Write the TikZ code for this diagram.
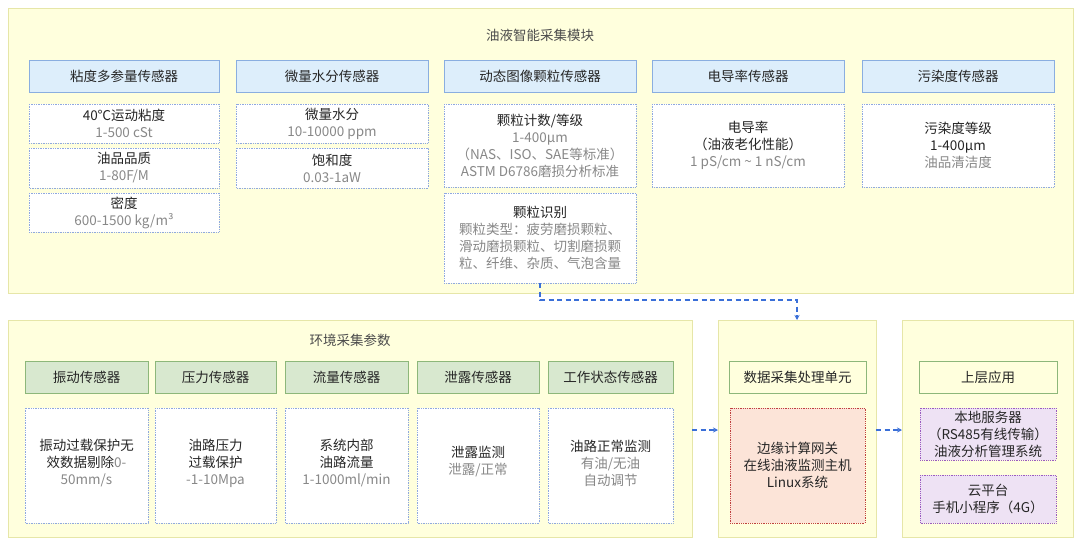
\documentclass[tikz,border=0pt]{standalone}
\usepackage{fontspec}
\setmainfont{Noto Sans CJK SC}
\usetikzlibrary{arrows.meta}
\definecolor{panel}{HTML}{FFFFDD}
\definecolor{panelb}{HTML}{E6E6A8}
\definecolor{hblue}{HTML}{DDEEFB}
\definecolor{hblueb}{HTML}{8AAEE0}
\definecolor{hgreen}{HTML}{D8E8CF}
\definecolor{hgreenb}{HTML}{8DB77A}
\definecolor{dbb}{HTML}{8FA8E0}
\definecolor{gtxt}{HTML}{888888}
\definecolor{rfill}{HTML}{FCE4D8}
\definecolor{rb}{HTML}{C04040}
\definecolor{pfill}{HTML}{EEE2F4}
\definecolor{pb}{HTML}{9A5CC0}
\definecolor{arr}{HTML}{3A6FD8}
\begin{document}
\begin{tikzpicture}[x=1pt,y=-1pt,
 panelS/.style={draw=panelb,fill=panel,line width=0.8pt},
 hb/.style={draw=hblueb,fill=hblue,line width=0.8pt},
 hg/.style={draw=hgreenb,fill=hgreen,line width=0.8pt},
 hw/.style={draw=hgreenb,fill=panel,line width=1pt},
 db/.style={draw=dbb,fill=white,densely dotted,line width=0.7pt},
 rbx/.style={draw=rb,fill=rfill,densely dotted,line width=0.8pt},
 pbx/.style={draw=pb,fill=pfill,densely dotted,line width=0.8pt},
 lab/.style={font=\fontsize{13.5}{17}\selectfont,align=center,text=black!85},
 ar/.style={draw=arr,line width=1.4pt,dash pattern=on 5pt off 3.5pt,-{Stealth[length=5pt,width=5pt]}}]
\useasboundingbox (0,0) rectangle (1080,547);
\fill[white] (0,0) rectangle (1080,547);
% top panel
\draw[panelS] (8,8) rectangle (1073,293);
\node[lab,text=black!70] (t1) at (540,35) {油液智能采集模块};
\foreach \a/\b/\t [count=\i] in {29/219/粘度多参量传感器,236/428/微量水分传感器,444/636/动态图像颗粒传感器,652/844/电导率传感器,862/1054/污染度传感器}{
 \draw[hb] (\a,60) rectangle (\b,92);
 \node[lab] (h\i) at ({(\a+\b)/2},76) {\t};
}
% col1
\draw[db] (29,104) rectangle (219,143); \node[lab] (a1) at (124,123.5) {40℃运动粘度\\{\color{gtxt}1-500 cSt}};
\draw[db] (29,148) rectangle (219,188); \node[lab] (a2) at (124,168) {油品品质\\{\color{gtxt}1-80F/M}};
\draw[db] (29,193) rectangle (219,232); \node[lab] (a3) at (124,212.5) {密度\\{\color{gtxt}600-1500 kg/m³}};
% col2
\draw[db] (236,104) rectangle (428,143); \node[lab] (b1) at (332,123.5) {微量水分\\{\color{gtxt}10-10000 ppm}};
\draw[db] (236,148) rectangle (428,188); \node[lab] (b2) at (332,168) {饱和度\\{\color{gtxt}0.03-1aW}};
% col3
\draw[db] (444,104) rectangle (636,187); \node[lab] (c1) at (540,145.5) {颗粒计数/等级\\{\color{gtxt}1-400μm}\\{\color{gtxt}（NAS、ISO、SAE等标准）}\\{\color{gtxt}ASTM D6786磨损分析标准}};
\draw[db] (444,193) rectangle (636,283); \coordinate (c2b) at (540,283);
\node[lab] (c2) at (540,238) {颗粒识别\\{\color{gtxt}颗粒类型：疲劳磨损颗粒、}\\{\color{gtxt}滑动磨损颗粒、切割磨损颗}\\{\color{gtxt}粒、纤维、杂质、气泡含量}};
% col4
\draw[db] (652,104) rectangle (844,187); \node[lab] (d1) at (748,145.5) {电导率\\（油液老化性能）\\{\color{gtxt}1 pS/cm \textasciitilde{} 1 nS/cm}};
\draw[db] (862,104) rectangle (1054,187); \node[lab] (e1) at (958,145.5) {污染度等级\\1-400μm\\{\color{gtxt}油品清洁度}};
% bottom left
\draw[panelS] (8,320) rectangle (692,537);
\node[lab,text=black!70] (t2) at (350,340) {环境采集参数};
\foreach \a/\b/\t [count=\i] in {25/148/振动传感器,155/276/压力传感器,285/408/流量传感器,417/539/泄露传感器,548/673/工作状态传感器}{
 \draw[hg] (\a,361) rectangle (\b,393);
 \node[lab] (g\i) at ({(\a+\b)/2},377) {\t};
 \draw[db] (\a,408) rectangle (\b,523);
}
\node[lab] (s1) at (86.5,463) {振动过载保护无\\效数据剔除{\color{gtxt}0-}\\{\color{gtxt}50mm/s}};
\node[lab] (s2) at (215.5,463) {油路压力\\过载保护\\{\color{gtxt}-1-10Mpa}};
\node[lab] (s3) at (346.5,463) {系统内部\\油路流量\\{\color{gtxt}1-1000ml/min}};
\node[lab] (s4) at (478,462) {泄露监测\\{\color{gtxt}泄露/正常}};
\node[lab] (s5) at (610.5,463) {油路正常监测\\{\color{gtxt}有油/无油}\\{\color{gtxt}自动调节}};
% middle
\draw[panelS] (718,320) rectangle (876,537);
\draw[hw] (729,361) rectangle (866,393); \node[lab] (m1) at (797.5,377) {数据采集处理单元};
\draw[rbx] (730,408) rectangle (865,523); \node[lab] (m2) at (797.5,465.5) {边缘计算网关\\在线油液监测主机\\Linux系统};
% right
\draw[panelS] (902,320) rectangle (1073,537);
\draw[hw] (919,361) rectangle (1057,393); \node[lab] (r1) at (988,377) {上层应用};
\draw[pbx] (920,408) rectangle (1056,460); \node[lab] (r2) at (988,434) {本地服务器\\（RS485有线传输）\\油液分析管理系统};
\draw[pbx] (920,475) rectangle (1056,523); \node[lab] (r3) at (988,499) {云平台\\手机小程序（4G）};
% arrows
\coordinate (p1) at (692,430); \coordinate (p2) at (718,430);
\coordinate (p3) at (876,430); \coordinate (p4) at (902,430);
\coordinate (mt) at (797,320);
\draw[ar] (c2b) -- (540,300) -- (797,300) -- (mt);
\draw[ar] (p1) -- (p2);
\draw[ar] (p3) -- (p4);
\end{tikzpicture}
\end{document}
